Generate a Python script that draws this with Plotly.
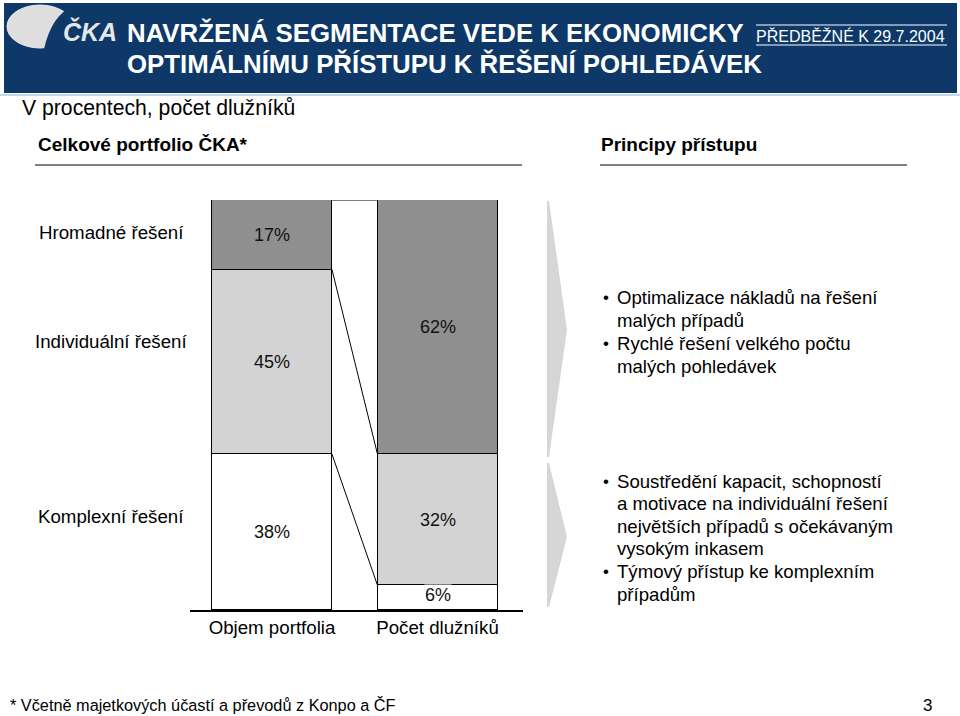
import plotly.graph_objects as go
import numpy as np

# ---------------- data ----------------
categories = ["Objem portfolia", "Počet dlužníků"]
segments = ["Komplexní řešení", "Individuální řešení", "Hromadné řešení"]  # bottom -> top
komplexni = [38, 6]
individualni = [45, 32]
hromadne = [17, 62]
segment_values = [komplexni, individualni, hromadne]
segment_colors = ["#ffffff", "#d3d3d3", "#8f8f8f"]

bullets_top = [
    ["Optimalizace nákladů na řešení", "malých případů"],
    ["Rychlé řešení velkého počtu", "malých pohledávek"],
]
bullets_bottom = [
    ["Soustředění kapacit, schopností", "a motivace na individuální řešení",
     "největších případů s očekávaným", "vysokým inkasem"],
    ["Týmový přístup ke komplexním", "případům"],
]

title_1 = "NAVRŽENÁ SEGMENTACE VEDE K EKONOMICKY"
title_2 = "OPTIMÁLNÍMU PŘÍSTUPU K ŘEŠENÍ POHLEDÁVEK"
stamp = "PŘEDBĚŽNÉ K 29.7.2004"
subtitle = "V procentech, počet dlužníků"
left_head = "Celkové portfolio ČKA*"
right_head = "Principy přístupu"
footnote = "* Včetně majetkových účastí a převodů z Konpo a ČF"
page_no = "3"

# ---------------- layout helpers ----------------
W, H = 960, 716
def px(x):
    return x / W
def py(y):
    return 1 - y / H

ARIAL = "Liberation Sans, Arial, sans-serif"
BLUE = "#0d3868"

bar_w = 0.725
xs = [0, 1]

fig = go.Figure()

for name, vals, col in zip(segments, segment_values, segment_colors):
    fig.add_trace(go.Bar(
        x=xs, y=vals, name=name, width=bar_w,
        marker=dict(color=col, line=dict(color="black", width=1)),
        hoverinfo="skip", showlegend=False,
    ))

# connector lines between the bars (through cumulative boundaries)
cum = np.cumsum(np.array(segment_values), axis=0)  # bottom-up cumulative
xr = xs[0] + bar_w / 2
xl = xs[1] - bar_w / 2
for i in range(len(segments)):
    fig.add_trace(go.Scatter(
        x=[xr, xl], y=[cum[i][0], cum[i][1]], mode="lines",
        line=dict(color="black", width=1), hoverinfo="skip", showlegend=False,
    ))

# value labels inside segments
annotations = []
for i, vals in enumerate(segment_values):
    for j, v in enumerate(vals):
        base = cum[i][j] - v
        mid = base + v / 2
        a = dict(x=xs[j], y=mid, xref="x", yref="y", text=f"{v}%", showarrow=False,
                 font=dict(family=ARIAL, size=18, color="#111111"), yanchor="middle")
        if v < 10:
            a["bgcolor"] = "white"
            a["yshift"] = 3
            a["borderpad"] = 0
        annotations.append(a)

# row labels
row_label_y = {"Hromadné řešení": 232, "Individuální řešení": 341, "Komplexní řešení": 516}
for lab, y in row_label_y.items():
    annotations.append(dict(x=px(111), y=py(y), xref="paper", yref="paper", text=lab,
                            showarrow=False, xanchor="center", yanchor="middle",
                            font=dict(family=ARIAL, size=18.7, color="black")))

# header texts
annotations += [
    dict(x=px(125), y=py(33), xref="paper", yref="paper", text=f"<b>{title_1}</b>",
         showarrow=False, xanchor="left", yanchor="middle",
         font=dict(family=ARIAL, size=25.8, color="white")),
    dict(x=px(125), y=py(63), xref="paper", yref="paper", text=f"<b>{title_2}</b>",
         showarrow=False, xanchor="left", yanchor="middle",
         font=dict(family=ARIAL, size=25.8, color="white")),
    dict(x=px(947), y=py(36), xref="paper", yref="paper", text=stamp,
         showarrow=False, xanchor="right", yanchor="middle",
         font=dict(family=ARIAL, size=16, color="white")),
    dict(x=px(61), y=py(31), xref="paper", yref="paper", text="<b><i>ČKA</i></b>",
         showarrow=False, xanchor="left", yanchor="middle",
         font=dict(family=ARIAL, size=25, color="#e6e6e6")),
    dict(x=px(20), y=py(108), xref="paper", yref="paper", text=subtitle,
         showarrow=False, xanchor="left", yanchor="middle",
         font=dict(family=ARIAL, size=21.2, color="black")),
    dict(x=px(36), y=py(144), xref="paper", yref="paper", text=f"<b>{left_head}</b>",
         showarrow=False, xanchor="left", yanchor="middle",
         font=dict(family=ARIAL, size=19, color="black")),
    dict(x=px(599), y=py(144), xref="paper", yref="paper", text=f"<b>{right_head}</b>",
         showarrow=False, xanchor="left", yanchor="middle",
         font=dict(family=ARIAL, size=19, color="black")),
    dict(x=px(8), y=py(705), xref="paper", yref="paper", text=footnote,
         showarrow=False, xanchor="left", yanchor="middle",
         font=dict(family=ARIAL, size=16.3, color="black")),
    dict(x=px(934), y=py(705), xref="paper", yref="paper", text=page_no,
         showarrow=False, xanchor="right", yanchor="middle",
         font=dict(family=ARIAL, size=17, color="black")),
]

# bullet texts
def add_bullets(groups, y0, step):
    y = y0
    for g in groups:
        for k, line in enumerate(g):
            if k == 0:
                annotations.append(dict(x=px(601), y=py(y), xref="paper", yref="paper", text="•",
                                        showarrow=False, xanchor="left", yanchor="middle",
                                        font=dict(family=ARIAL, size=17, color="black")))
            annotations.append(dict(x=px(615), y=py(y), xref="paper", yref="paper", text=line,
                                    showarrow=False, xanchor="left", yanchor="middle",
                                    font=dict(family=ARIAL, size=18.6, color="black")))
            y += step

add_bullets(bullets_top, 298, 22.7)
add_bullets(bullets_bottom, 481, 22.6)

# ---------------- shapes ----------------
shapes = [
    # header band
    dict(type="rect", xref="paper", yref="paper", x0=px(4), x1=px(957), y0=py(3), y1=py(93),
         fillcolor=BLUE, line=dict(width=0), layer="below"),
    dict(type="line", xref="paper", yref="paper", x0=0, x1=1, y0=py(95), y1=py(95),
         line=dict(color="#c3d7ee", width=2)),
    # logo ellipse
    dict(type="circle", xref="paper", yref="paper", x0=px(7), x1=px(73), y0=py(5), y1=py(48),
         fillcolor="#dedede", line=dict(color="#f0f0f0", width=1)),
    dict(type="path", xref="paper", yref="paper",
         path=f"M {px(74)},{py(6)} Q {px(52)},{py(14)} {px(44)},{py(49)} L {px(76)},{py(49)} Z",
         fillcolor=BLUE, line=dict(width=0)),
    # stamp over/underline
    dict(type="line", xref="paper", yref="paper", x0=px(756), x1=px(947), y0=py(25), y1=py(25),
         line=dict(color="white", width=1)),
    dict(type="line", xref="paper", yref="paper", x0=px(756), x1=px(947), y0=py(45), y1=py(45),
         line=dict(color="white", width=1)),
    # section underlines
    dict(type="line", xref="paper", yref="paper", x0=px(35), x1=px(522), y0=py(165), y1=py(165),
         line=dict(color="black", width=1)),
    dict(type="line", xref="paper", yref="paper", x0=px(600), x1=px(907), y0=py(165), y1=py(165),
         line=dict(color="black", width=1)),
    # chevrons
    dict(type="path", xref="paper", yref="paper",
         path=(f"M {px(547)},{py(201)} L {px(549)},{py(201)} L {px(567)},{py(330)} "
               f"L {px(549)},{py(457)} L {px(547)},{py(457)} Z"),
         fillcolor="#d6d6d6", line=dict(width=0)),
    dict(type="path", xref="paper", yref="paper",
         path=(f"M {px(547)},{py(463)} L {px(549)},{py(463)} L {px(567)},{py(537)} "
               f"L {px(549)},{py(607)} L {px(547)},{py(607)} Z"),
         fillcolor="#d6d6d6", line=dict(width=0)),
]

fig.update_layout(
    width=W, height=H, margin=dict(l=0, r=0, t=0, b=0),
    paper_bgcolor="white", plot_bgcolor="white",
    barmode="stack", bargap=0,
    xaxis=dict(domain=[px(190), px(523)], range=[-0.4955, 1.5166],
               tickvals=xs, ticktext=categories, ticks="", showgrid=False, zeroline=False,
               showline=True, linecolor="black", linewidth=2,
               tickfont=dict(family=ARIAL, size=18.7, color="black"), fixedrange=True),
    yaxis=dict(domain=[py(610), py(200)], range=[0, 100], visible=False, fixedrange=True),
    annotations=annotations, shapes=shapes, showlegend=False,
)

fig.write_html("out.html")
